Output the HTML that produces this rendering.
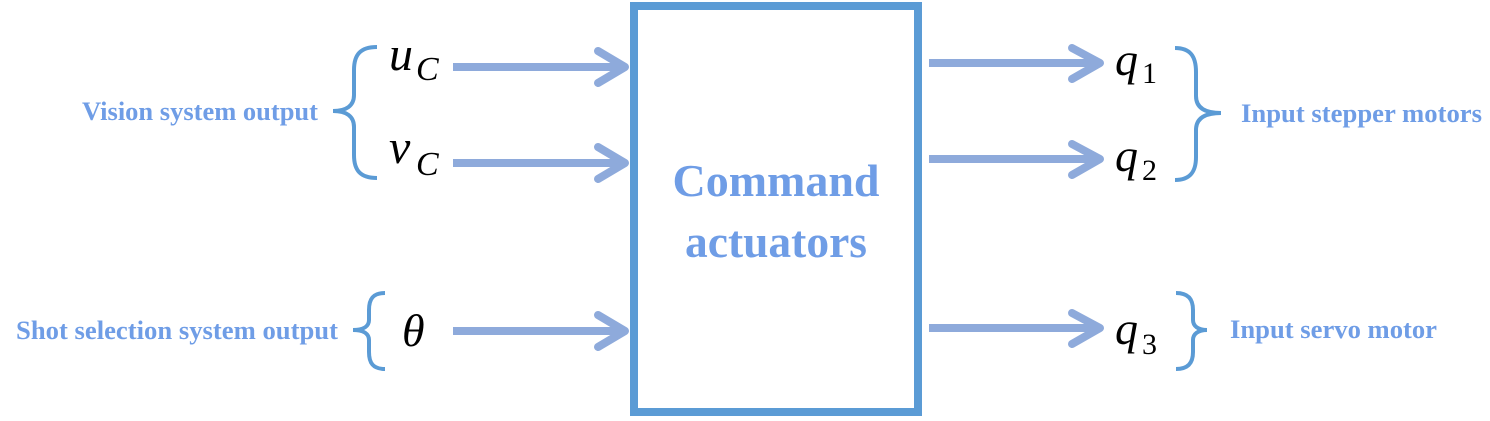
<!DOCTYPE html>
<html><head><meta charset="utf-8"><style>
html,body{margin:0;padding:0;background:#fff;width:1490px;height:421px;overflow:hidden}
svg{display:block}
.lbl{font-family:"Liberation Serif",serif;font-weight:bold;fill:#6f9de6}
.m{font-family:"Liberation Serif",serif;font-style:italic;fill:#000}
</style></head><body>
<svg width="1490" height="421" viewBox="0 0 1490 421" xmlns="http://www.w3.org/2000/svg">
<rect x="634" y="6" width="284" height="406" fill="none" stroke="#5b9bd5" stroke-width="8"/>
<text class="lbl" x="776" y="196" font-size="46" text-anchor="middle" textLength="207" lengthAdjust="spacingAndGlyphs">Command</text>
<text class="lbl" x="776" y="257" font-size="46" text-anchor="middle" textLength="182" lengthAdjust="spacingAndGlyphs">actuators</text>
<g stroke="#8eaadb" stroke-width="8" fill="none" stroke-linecap="round" stroke-linejoin="round">
<line x1="453" y1="67" x2="622" y2="67" stroke-linecap="butt"/>
<polyline points="598,51 625,67 598,83"/>
<line x1="453" y1="163" x2="622" y2="163" stroke-linecap="butt"/>
<polyline points="598,147 625,163 598,179"/>
<line x1="453" y1="331" x2="622" y2="331" stroke-linecap="butt"/>
<polyline points="598,315 625,331 598,347"/>
<line x1="929" y1="63" x2="1096" y2="63" stroke-linecap="butt"/>
<polyline points="1072,48 1100,63 1072,79"/>
<line x1="929" y1="159" x2="1096" y2="159" stroke-linecap="butt"/>
<polyline points="1072,144 1100,159 1072,175"/>
<line x1="929" y1="328" x2="1096" y2="328" stroke-linecap="butt"/>
<polyline points="1072,313 1100,328 1072,344"/>
</g>
<g stroke="#5b9bd5" stroke-width="4" fill="none">
<path d="M377,47 C360,47 354,55 354,70 L354,95 C354,106 346,111 333,111 C346,111 354,116 354,127 L354,155 C354,170 360,178 377,178"/>
<path d="M385,293 C373,293 369,299 369,310 L369,320 C369,326 364,330 353,330 C364,330 369,334 369,340 L369,352 C369,363 373,369 385,369"/>
<path d="M1175,48 C1190,48 1196,56 1196,72 L1196,96 C1196,107 1204,113 1221,113 C1204,113 1196,119 1196,130 L1196,157 C1196,172 1190,180 1175,180"/>
<path d="M1176,293 C1188,293 1193,299 1193,310 L1193,320 C1193,326 1198,330 1207,330 C1198,330 1193,334 1193,340 L1193,352 C1193,363 1188,369 1176,369"/>
</g>
<text class="lbl" x="82" y="120" font-size="26" textLength="236" lengthAdjust="spacingAndGlyphs">Vision system output</text>
<text class="lbl" x="16" y="339" font-size="26" textLength="322" lengthAdjust="spacingAndGlyphs">Shot selection system output</text>
<text class="lbl" x="1241" y="122" font-size="26" textLength="241" lengthAdjust="spacingAndGlyphs">Input stepper motors</text>
<text class="lbl" x="1230" y="338" font-size="26" textLength="207" lengthAdjust="spacingAndGlyphs">Input servo motor</text>
<text class="m" x="389" y="70" font-size="48">u</text><text class="m" x="416" y="80" font-size="34">C</text>
<text class="m" x="389" y="163" font-size="48">v</text><text class="m" x="416" y="175" font-size="34">C</text>
<text class="m" x="402" y="346" font-size="46">θ</text>
<text class="m" x="1115" y="75" font-size="46">q</text><text x="1142" y="83" font-size="30" font-family="Liberation Serif, serif">1</text>
<text class="m" x="1115" y="171" font-size="46">q</text><text x="1142" y="180" font-size="30" font-family="Liberation Serif, serif">2</text>
<text class="m" x="1115" y="344" font-size="46">q</text><text x="1142" y="354" font-size="30" font-family="Liberation Serif, serif">3</text>
</svg>
</body></html>
